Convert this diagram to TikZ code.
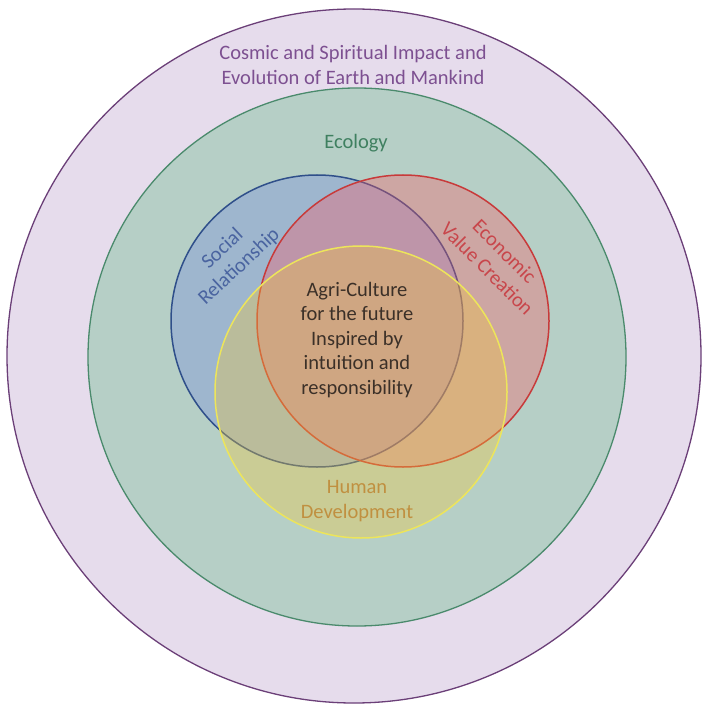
\documentclass[tikz,border=0pt]{standalone}
\usepackage{fontspec}
\setmainfont{Carlito}
\definecolor{outerF}{RGB}{230,220,236}
\definecolor{outerD}{RGB}{107,63,120}
\definecolor{ecoF}{RGB}{182,207,198}
\definecolor{ecoD}{RGB}{74,138,108}
\definecolor{blueF}{RGB}{90,110,230}
\definecolor{blueD}{RGB}{47,79,138}
\definecolor{redF}{RGB}{250,90,100}
\definecolor{redD}{RGB}{200,58,58}
\definecolor{yelF}{RGB}{240,200,60}
\definecolor{yelD}{RGB}{237,229,90}
\definecolor{cosmicT}{RGB}{125,80,145}
\definecolor{ecoT}{RGB}{63,128,96}
\definecolor{socialT}{RGB}{74,100,160}
\definecolor{econT}{RGB}{200,70,75}
\definecolor{centerT}{RGB}{59,48,40}
\definecolor{humanT}{RGB}{192,144,64}
\tikzset{
  ring/.style={circle, inner sep=0pt, outer sep=0pt, line width=1.3pt},
  venn/.style={circle, inner sep=0pt, outer sep=0pt, line width=1.5pt, minimum size=292pt},
  lbl/.style={align=center, font=\fontsize{20.5}{24.5}\selectfont, inner sep=0pt}
}
\begin{document}
\begin{tikzpicture}[x=1pt,y=-1pt]
\useasboundingbox (0,0) rectangle (703,708);
\fill[white] (0,0) rectangle (703,708);
\node[ring, minimum size=694pt, draw=outerD, fill=outerF] (cosmic) at (354,356) {};
\node[ring, minimum size=538pt, draw=ecoD, fill=ecoF] (ecology) at (357,357) {};
\node[venn, draw=blueD, fill=blueF, fill opacity=0.25] (social) at (317,321) {};
\node[venn, draw=redD, fill=redF, fill opacity=0.35] (economic) at (403,321) {};
\node[venn, draw=yelD, fill=yelF, fill opacity=0.35] (human) at (361,392) {};
\node[lbl, text=cosmicT] (cosmicL) at (353,65) {Cosmic and Spiritual Impact and\\Evolution of Earth and Mankind};
\node[lbl, text=ecoT] (ecologyL) at (356,143) {Ecology};
\node[lbl, text=socialT, rotate=43] (socialL) at (231,258) {Social\\Relationship};
\node[lbl, text=econT, rotate=-45] (economicL) at (496,260) {Economic\\Value Creation};
\node[lbl, text=centerT] (centerL) at (357,340) {Agri-Culture\\for the future\\Inspired by\\intuition and\\responsibility};
\node[lbl, text=humanT] (humanL) at (357,501) {Human\\Development};
\end{tikzpicture}
\end{document}
